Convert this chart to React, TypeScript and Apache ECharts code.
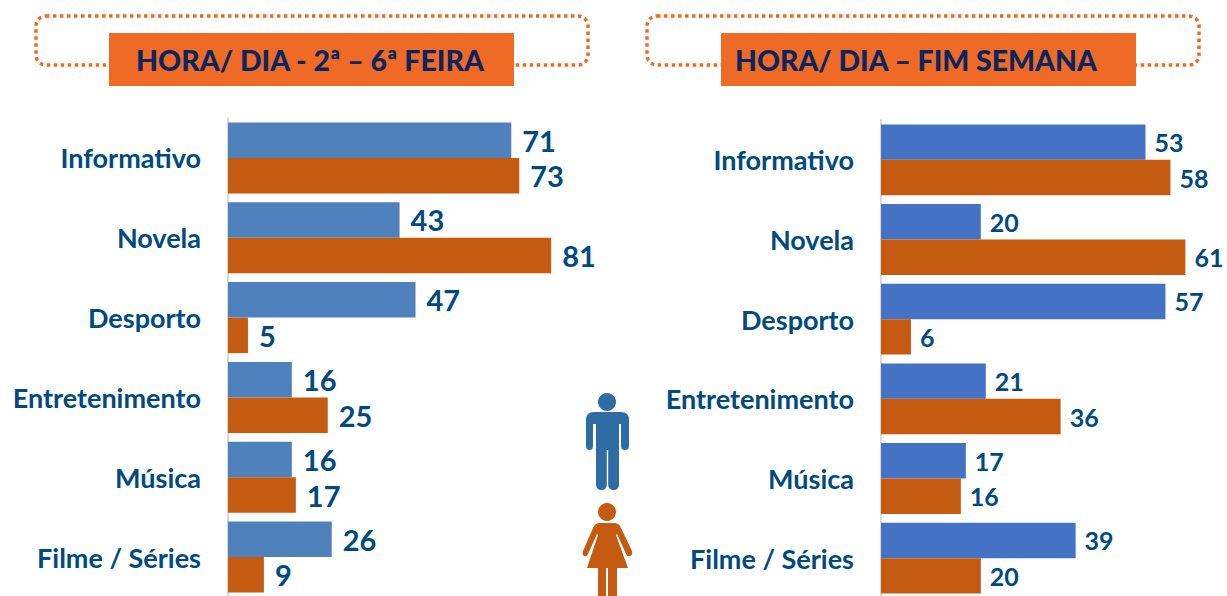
import React, { useEffect, useRef } from "react";
import * as echarts from "echarts";

const categories = ["Informativo", "Novela", "Desporto", "Entretenimento", "Música", "Filme / Séries"];
const weekdayMen = [71, 43, 47, 16, 16, 26];
const weekdayWomen = [73, 81, 5, 25, 17, 9];
const weekendMen = [53, 20, 57, 21, 17, 39];
const weekendWomen = [58, 61, 6, 36, 16, 20];
const titleWeekday = "HORA/ DIA - 2ª – 6ª FEIRA";
const titleWeekend = "HORA/ DIA – FIM SEMANA";

const FONT = "Lato";
const LABEL = "#004A7F";
const ORANGE = "#EE6A25";
const WOMAN = "#C55A11";

echarts.graphic.registerShape(
  "manIcon",
  echarts.graphic.extendPath(
    "M594 412 L621 412 Q629 412 629 420 L629 446 Q629 450 625 450 Q621 450 621 446 L621 424 L619 424 L619 484 Q619 490 613.5 490 Q608.2 490 608.2 484 L608.2 450 L606.8 450 L606.8 484 Q606.8 490 601.5 490 Q596 490 596 484 L596 424 L593 424 L593 446 Q593 450 589.5 450 Q586 450 586 446 L586 420 Q586 412 594 412 Z" as any,
    {} as any
  ) as any
);
echarts.graphic.registerShape(
  "womanIcon",
  echarts.graphic.extendPath(
    "M600 523 L614 523 Q619 523 621 528 L632 551 Q633 555 630 556 Q627 557 626 554 L617 534 L616 535 L628 568 L617 568 L617 596 L608 596 L608 568 L606 568 L606 596 L598 596 L598 568 L587 568 L598 535 L597 534 L588 554 Q587 557 584 556 Q582 555 583 551 L593 528 Q595 523 600 523 Z" as any,
    {} as any
  ) as any
);

function bar(data: number[], color: string, xAxisIndex: number, fontSize: number, distance: number) {
  return {
    type: "bar",
    data,
    xAxisIndex,
    yAxisIndex: xAxisIndex,
    barGap: "0%",
    barCategoryGap: "11%",
    itemStyle: { color },
    label: {
      show: true,
      position: "right",
      distance,
      color: LABEL,
      fontFamily: FONT,
      fontWeight: "bold",
      fontSize,
    },
  };
}

function titleBlock(x: number, w: number, bx: number, bw: number, tx: number, text: string, size: number) {
  return [
    {
      type: "rect",
      shape: { x, y: 16, width: w, height: 49, r: 10 },
      style: { fill: "none", stroke: ORANGE, lineWidth: 3.5, lineDash: [3.5, 3.5] },
    },
    { type: "rect", shape: { x: bx, y: 33, width: bw, height: 53 }, style: { fill: ORANGE } },
    {
      type: "text",
      x: tx,
      y: 60,
      style: {
        text,
        fill: "#0B2560",
        font: `900 ${size}px ${FONT}`,
        textAlign: "left",
        textVerticalAlign: "middle",
      },
    },
  ];
}

export default function App() {
  const ref = useRef<HTMLDivElement>(null);
  useEffect(() => {
    document.body.style.margin = "0";
    const chart = echarts.init(ref.current!, null, { renderer: "svg" });
    const yBase = {
      type: "category",
      data: categories,
      inverse: true,
      axisTick: { show: false },
      axisLine: { show: true, lineStyle: { color: "#D9D9D9", width: 2 } },
      axisLabel: {
        color: LABEL,
        fontFamily: FONT,
        fontWeight: "bold",
        fontSize: 27,
        margin: 27,
        padding: [0, 0, 3, 0],
      },
    };
    const xBase = { type: "value", min: 0, show: false, splitLine: { show: false } };
    chart.setOption({
      animation: false,
      backgroundColor: "#fff",
      grid: [
        { left: 228, top: 118, width: 399, height: 479, outerBoundsMode: "none" },
        { left: 881, top: 120, width: 499, height: 478, outerBoundsMode: "none" },
      ],
      xAxis: [
        { ...xBase, gridIndex: 0, max: 100 },
        { ...xBase, gridIndex: 1, max: 100 },
      ],
      yAxis: [
        { ...yBase, gridIndex: 0 },
        { ...yBase, gridIndex: 1 },
      ],
      series: [
        bar(weekdayMen, "#4F81BD", 0, 29, 11),
        bar(weekdayWomen, WOMAN, 0, 29, 11),
        bar(weekendMen, "#4472C4", 1, 25, 9),
        bar(weekendWomen, WOMAN, 1, 25, 9),
      ],
      graphic: [
        ...titleBlock(36, 552, 109, 405, 136, titleWeekday, 28.5),
        ...titleBlock(647, 552, 721, 415, 735, titleWeekend, 28.4),
        { type: "circle", shape: { cx: 607, cy: 402, r: 9 }, style: { fill: "#2E6CA4" } },
        { type: "manIcon", style: { fill: "#2E6CA4" } },
        { type: "circle", shape: { cx: 607, cy: 512, r: 9 }, style: { fill: WOMAN } },
        { type: "womanIcon", style: { fill: WOMAN } },
      ],
    });
    return () => chart.dispose();
  }, []);
  return <div ref={ref} style={{ width: 1227, height: 596 }} />;
}
